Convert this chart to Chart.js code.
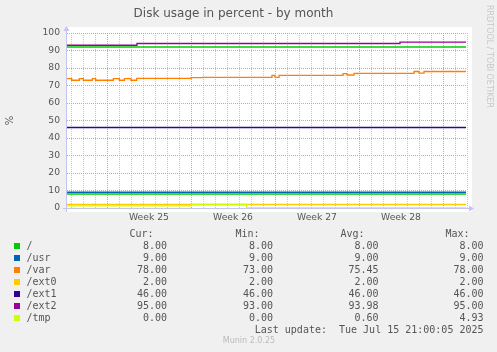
<!DOCTYPE html>
<html><head><meta charset="utf-8">
<script src="https://cdn.jsdelivr.net/npm/chart.js@4"></script>
<style>
html,body{margin:0;padding:0;background:#f0f0f0;}
#wrap{position:relative;width:497px;height:352px;overflow:hidden;background:#f0f0f0;}
canvas{position:absolute;left:0;top:0;}
.m{position:absolute;font-family:"DejaVu Sans Mono",monospace;font-size:10px;line-height:12px;color:#555;white-space:pre;}
.sw{position:absolute;width:6px;height:6px;}
</style></head><body>
<div id="wrap"><canvas id="c" width="497" height="352"></canvas></div>
<script>
// ---- data (x in days since start of graph) ----
const seriesNames  = ['/', '/usr', '/var', '/ext0', '/ext1', '/ext2', '/tmp'];
const seriesColors = ['#00cc00', '#0066b3', '#ff8000', '#ffcc00', '#330099', '#990099', '#ccff00'];
const curVals = [8.00, 9.00, 78.00, 2.00, 46.00, 95.00, 0.00];
const minVals = [8.00, 9.00, 73.00, 2.00, 46.00, 93.00, 0.00];
const avgVals = [8.00, 9.00, 75.45, 2.00, 46.00, 93.98, 0.60];
const maxVals = [8.00, 9.00, 78.00, 2.00, 46.00, 95.00, 4.93];
const weekLabels = ['Week 25', 'Week 26', 'Week 27', 'Week 28'];
const weekCenters = [6.83, 13.83, 20.83, 27.83];
const lastUpdate = 'Last update:  Tue Jul 15 21:00:05 2025';

const rootDays = [0, 33.25];
const rootVals = [8, 8];
const rootUpperDays = [0, 33.25];
const rootUpperVals = [92, 92];
const usrDays = [0, 33.25];
const usrVals = [9, 9];
const varDays = [0, 0.39, 1.03, 1.36, 2.11, 2.39, 3.86, 4.36, 4.78, 5.33, 5.81, 10.33, 11.33, 17.08, 17.33, 17.67, 23.0, 23.33, 23.92, 28.92, 29.33, 29.75, 33.25];
const varVals = [73.9, 73.0, 73.9, 73.0, 73.9, 73.0, 73.9, 73.0, 73.9, 73.0, 74.1, 74.5, 74.7, 75.8, 74.7, 75.8, 76.8, 76.0, 76.9, 78.0, 77.1, 78.0, 78.0];
const ext0Days = [0, 33.25];
const ext0Vals = [2, 2];
const ext1Days = [0, 33.25];
const ext1Vals = [46, 46];
const ext2Days = [0, 5.83, 27.75, 33.25];
const ext2Vals = [93.0, 94.0, 94.8, 94.8];
const tmpDays = [0, 10.39, 14.97, 33.25];
const tmpVals = [1.2, 2.0, 0, 0];

const pts = (d, v) => d.map((x, i) => ({x: x, y: v[i]}));
const seriesData = [
  pts(rootDays, rootVals), pts(usrDays, usrVals), pts(varDays, varVals),
  pts(ext0Days, ext0Vals), pts(ext1Days, ext1Vals), pts(ext2Days, ext2Vals), pts(tmpDays, tmpVals)
];

const datasets = seriesNames.map((n, i) => ({
  label: n, data: seriesData[i], borderColor: seriesColors[i], backgroundColor: seriesColors[i],
  borderWidth: 1.3, pointRadius: 0, stepped: true, fill: false, order: seriesNames.length - i + 1
}));
datasets.push({
  label: '/ upper', data: pts(rootUpperDays, rootUpperVals), borderColor: seriesColors[0],
  borderWidth: 1.3, pointRadius: 0, stepped: true, fill: false, order: 20
});

const dayLines = [];
for (let k = 0; k < 34; k++) dayLines.push(0.3333 + k);
const isWeek = v => { const r = ((v - 3.3333) % 7 + 7) % 7; return r < 0.01 || r > 6.99; };
const RED = 'rgb(232,150,150)';
const GRAY = 'rgb(200,200,200)';

const bgPlugin = {
  id: 'bg',
  beforeDraw(chart) {
    const {ctx, chartArea: a} = chart;
    ctx.save();
    ctx.fillStyle = '#ffffff';
    ctx.fillRect(a.left - 1, a.top - 6, a.right - a.left + 6, a.bottom - a.top + 10);
    ctx.restore();
  },
  beforeDatasetsDraw(chart) {
    const {ctx, chartArea: a} = chart;
    ctx.save();
    ctx.strokeStyle = '#c4c4f0';
    ctx.fillStyle = '#c4c4f0';
    ctx.lineWidth = 1;
    ctx.beginPath();
    ctx.moveTo(a.left - 0.5, a.bottom + 4);
    ctx.lineTo(a.left - 0.5, a.top - 2);
    ctx.moveTo(a.left - 4, a.bottom + 0.5);
    ctx.lineTo(a.right + 2, a.bottom + 0.5);
    ctx.stroke();
    ctx.beginPath();
    ctx.moveTo(a.left - 3.5, a.top - 2);
    ctx.lineTo(a.left + 2.5, a.top - 2);
    ctx.lineTo(a.left - 0.5, a.top - 7);
    ctx.closePath();
    ctx.fill();
    ctx.beginPath();
    ctx.moveTo(a.right + 2, a.bottom - 2.5);
    ctx.lineTo(a.right + 2, a.bottom + 3.5);
    ctx.lineTo(a.right + 7, a.bottom + 0.5);
    ctx.closePath();
    ctx.fill();
    ctx.restore();
  }
};

new Chart(document.getElementById('c'), {
  type: 'line',
  data: {datasets: datasets},
  options: {
    responsive: false, animation: false, devicePixelRatio: 1,
    layout: {padding: {left: 0, right: 30, top: 0, bottom: 124}},
    plugins: {
      legend: {display: false}, tooltip: {enabled: false},
      title: {display: true, text: 'Disk usage in percent - by month', color: '#555',
        font: {family: 'DejaVu Sans', size: 12, weight: 'normal'}, padding: {top: 6.5, bottom: 12.1}}
    },
    scales: {
      x: {
        type: 'linear', min: 0, max: 33.33, position: 'bottom',
        afterBuildTicks(s) { s.ticks = dayLines.map(v => ({value: v})); },
        afterFit(s) { s.height = 0; },
        ticks: {display: false},
        border: {display: false, dash: [1, 1]},
        grid: {drawTicks: false, lineWidth: 1,
          color: c => isWeek(c.tick.value) ? RED : GRAY}
      },
      xw: {
        type: 'linear', min: 0, max: 33.33, position: 'bottom', axis: 'x',
        afterBuildTicks(s) { s.ticks = weekCenters.map(v => ({value: v})); },
        afterFit(s) { s.height = 20; },
        border: {display: false}, grid: {display: false, drawTicks: false},
        ticks: {autoSkip: false, maxRotation: 0, padding: 4, color: '#555',
          font: {family: 'DejaVu Sans', size: 9.2},
          callback: (v, i) => weekLabels[i]}
      },
      y: {
        min: 0, max: 100,
        afterFit(s) { s.width = 67; },
        border: {display: false, dash: [1, 1]},
        title: {display: true, text: '%', color: '#555', font: {family: 'DejaVu Sans', size: 10}, padding: {top: 4, bottom: 0}},
        ticks: {stepSize: 5, padding: 7, color: '#555', font: {family: 'DejaVu Sans', size: 9.2},
          callback: v => (v % 10 === 0 ? String(v) : '')},
        grid: {drawTicks: false, lineWidth: 1,
          color: c => c.tick.value === 0 ? 'rgba(0,0,0,0)' : (c.tick.value % 10 === 0 ? RED : GRAY)}
      }
    },
    elements: {line: {borderCapStyle: 'butt'}}
  },
  plugins: [bgPlugin]
});
</script>
<script>
// legend table, built from the arrays above
(function () {
  const wrap = document.getElementById('wrap');
  function txt(s, rightEdge, cy) {
    const d = document.createElement('div');
    d.className = 'm';
    d.textContent = s;
    d.style.left = (rightEdge - 300) + 'px';
    d.style.width = '300px';
    d.style.textAlign = 'right';
    d.style.top = (cy - 6) + 'px';
    wrap.appendChild(d);
  }
  function txtL(s, left, cy) {
    const d = document.createElement('div');
    d.className = 'm';
    d.textContent = s;
    d.style.left = left + 'px';
    d.style.top = (cy - 6) + 'px';
    wrap.appendChild(d);
  }
  const heads = ['Cur:', 'Min:', 'Avg:', 'Max:'];
  const headRight = [153.5, 259.5, 364.5, 469.5];
  const colRight = [167, 273, 378.5, 483.5];
  const cols = [curVals, minVals, avgVals, maxVals];
  heads.forEach((h, i) => txt(h, headRight[i], 234));
  seriesNames.forEach((n, r) => {
    const cy = 245.7 + r * 12;
    const sw = document.createElement('div');
    sw.className = 'sw';
    sw.style.left = '14px';
    sw.style.top = (cy - 3) + 'px';
    sw.style.background = seriesColors[r];
    wrap.appendChild(sw);
    txtL(n, 26.5, cy);
    cols.forEach((c, j) => txt(c[r].toFixed(2), colRight[j], cy));
  });
  txt(lastUpdate, 483.5, 330);
  const mu = document.createElement('div');
  mu.textContent = 'Munin 2.0.25';
  Object.assign(mu.style, {position: 'absolute', left: '149px', width: '200px', textAlign: 'center', top: '336px',
    fontFamily: 'DejaVu Sans', fontSize: '8px', lineHeight: '10px', color: '#bbb'});
  wrap.appendChild(mu);
  const rr = document.createElement('div');
  rr.textContent = 'RRDTOOL / TOBI OETIKER';
  Object.assign(rr.style, {position: 'absolute', left: '484px', top: '5px', writingMode: 'vertical-rl',
    fontFamily: 'DejaVu Sans', fontSize: '8px', lineHeight: '10px', color: '#c8c8c8', whiteSpace: 'nowrap'});
  wrap.appendChild(rr);
})();
</script>
</body></html>
